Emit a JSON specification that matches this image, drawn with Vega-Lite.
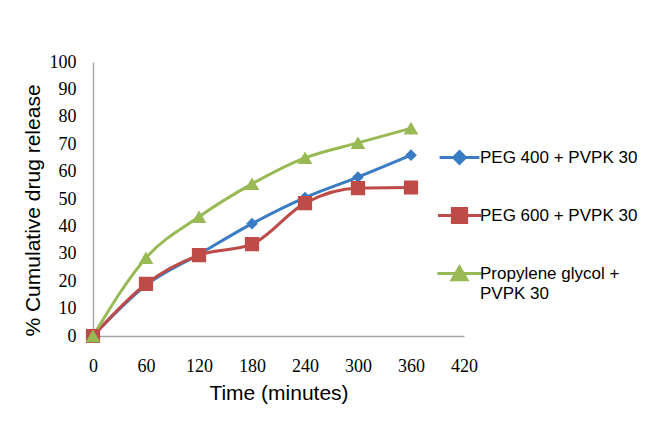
{
  "$schema": "https://vega.github.io/schema/vega-lite/v6.json",
  "width": 371,
  "height": 274,
  "autosize": {"type": "none"},
  "padding": {"left": 93, "top": 62, "right": 183, "bottom": 94},
  "background": "white",
  "config": {"view": {"stroke": null}, "font": "Liberation Sans"},
  "data": {
    "values": [
      {"series": "PEG 400 + PVPK 30", "time": 0, "value": 0},
      {"series": "PEG 400 + PVPK 30", "time": 60, "value": 18.5},
      {"series": "PEG 400 + PVPK 30", "time": 120, "value": 29.8},
      {"series": "PEG 400 + PVPK 30", "time": 180, "value": 41},
      {"series": "PEG 400 + PVPK 30", "time": 240, "value": 50.5},
      {"series": "PEG 400 + PVPK 30", "time": 300, "value": 58},
      {"series": "PEG 400 + PVPK 30", "time": 360, "value": 66},
      {"series": "PEG 600 + PVPK 30", "time": 0, "value": 0},
      {"series": "PEG 600 + PVPK 30", "time": 60, "value": 19},
      {"series": "PEG 600 + PVPK 30", "time": 120, "value": 29.5},
      {"series": "PEG 600 + PVPK 30", "time": 180, "value": 33.5},
      {"series": "PEG 600 + PVPK 30", "time": 240, "value": 48.5},
      {"series": "PEG 600 + PVPK 30", "time": 300, "value": 54},
      {"series": "PEG 600 + PVPK 30", "time": 360, "value": 54.2},
      {"series": "Propylene glycol + PVPK 30", "time": 0, "value": 0},
      {"series": "Propylene glycol + PVPK 30", "time": 60, "value": 28.5},
      {"series": "Propylene glycol + PVPK 30", "time": 120, "value": 43.5},
      {"series": "Propylene glycol + PVPK 30", "time": 180, "value": 55.5},
      {"series": "Propylene glycol + PVPK 30", "time": 240, "value": 65},
      {"series": "Propylene glycol + PVPK 30", "time": 300, "value": 70.5},
      {"series": "Propylene glycol + PVPK 30", "time": 360, "value": 75.8}
    ]
  },
  "encoding": {
    "x": {
      "field": "time",
      "type": "quantitative",
      "scale": {"domain": [0, 420], "nice": false, "zero": false},
      "axis": {
        "values": [0, 60, 120, 180, 240, 300, 360, 420],
        "title": "Time (minutes)",
        "grid": false,
        "ticks": false,
        "domainColor": "#a6a6a6",
        "domainWidth": 1.5,
        "labelFont": "Liberation Serif",
        "labelFontSize": 18,
        "labelColor": "#000000",
        "labelPadding": 21,
        "labelFlush": false,
        "labelOverlap": false,
        "titleFont": "Liberation Sans",
        "titleFontSize": 21,
        "titleFontWeight": "normal",
        "titleColor": "#000000",
        "titlePadding": 7
      }
    },
    "y": {
      "field": "value",
      "type": "quantitative",
      "scale": {"domain": [0, 100], "nice": false},
      "axis": {
        "values": [0, 10, 20, 30, 40, 50, 60, 70, 80, 90, 100],
        "title": "% Cumulative drug release",
        "grid": false,
        "ticks": false,
        "domainColor": "#a6a6a6",
        "domainWidth": 1.5,
        "labelFont": "Liberation Serif",
        "labelFontSize": 18,
        "labelColor": "#000000",
        "labelPadding": 17,
        "labelFlush": false,
        "labelOverlap": false,
        "titleFont": "Liberation Sans",
        "titleFontSize": 21,
        "titleFontWeight": "normal",
        "titleColor": "#000000",
        "titlePadding": 6,
        "titleY": 148
      }
    },
    "color": {
      "field": "series",
      "type": "nominal",
      "scale": {
        "domain": ["PEG 400 + PVPK 30", "PEG 600 + PVPK 30", "Propylene glycol + PVPK 30"],
        "range": ["#3A7CC3", "#BE4B48", "#98B954"]
      },
      "legend": {
        "orient": "none",
        "legendX": 358,
        "legendY": 87,
        "title": null,
        "padding": 0,
        "labelFont": "Liberation Sans",
        "labelFontSize": 17,
        "labelColor": "#000000",
        "labelLimit": 400,
        "symbolSize": 49,
        "labelOffset": 12,
        "rowPadding": 32,
        "labelExpr": "datum.label == 'Propylene glycol + PVPK 30' ? ['Propylene glycol +', 'PVPK 30'] : datum.label",
        "encode": {
          "symbols": {
            "update": {
              "fill": {"signal": "scale('color', datum.value)"},
              "stroke": {"signal": "scale('color', datum.value)"},
              "strokeWidth": {"value": 3},
              "opacity": {"value": 1}
            }
          },
          "labels": {
            "update": {
              "lineHeight": {"value": 20}
            }
          }
        }
      }
    }
  },
  "layer": [
    {"mark": {"type": "line", "strokeWidth": 3, "interpolate": "monotone"}},
    {
      "mark": {"type": "point", "filled": true, "opacity": 1, "strokeWidth": 0},
      "encoding": {
        "shape": {
          "field": "series",
          "type": "nominal",
          "scale": {
            "domain": ["PEG 400 + PVPK 30", "PEG 600 + PVPK 30", "Propylene glycol + PVPK 30"],
            "range": [
              "M-3.4,0H3.4M0,-1L1,0L0,1L-1,0Z",
              "M-3.9,0H3.9M-1.29,-1.29H1.29V1.29H-1.29Z",
              "M-4.3,0H4.3M0,-1.25L1.43,1.2H-1.43Z"
            ]
          },
          "legend": null
        },
        "size": {
          "field": "series",
          "type": "ordinal",
          "scale": {
            "domain": ["PEG 400 + PVPK 30", "PEG 600 + PVPK 30", "Propylene glycol + PVPK 30"],
            "range": [137, 106, 87]
          },
          "legend": null
        }
      }
    }
  ]
}
